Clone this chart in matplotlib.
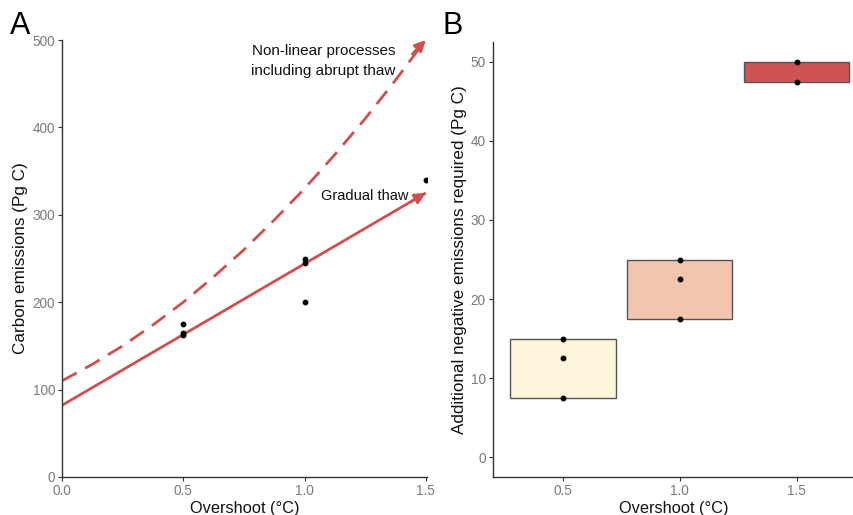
import matplotlib
matplotlib.use("Agg")
import matplotlib.pyplot as plt
import numpy as np

plt.rcParams['font.family'] = ['Liberation Sans', 'DejaVu Sans']

# Panel A data
pts_x = [0.5, 0.5, 0.5, 1.0, 1.0, 1.0, 1.5]
pts_y = [175, 165, 163, 250, 245, 200, 340]
grad_x = [0.0, 1.5]
grad_y = [82, 325]
nonlin_x = [0.0, 0.125, 0.25, 0.375, 0.5, 0.625, 0.75, 0.875, 1.0, 1.125, 1.25, 1.375, 1.5]
nonlin_y = [110, 129, 150, 174, 200, 229, 260, 294, 330, 369, 410, 454, 500]

# Panel B data
cats = [0.5, 1.0, 1.5]
box_lo = [7.5, 17.5, 47.5]
box_hi = [15, 25, 50]
box_colors = ['#FCF5DA', '#F1C6AC', '#CD5452']
b_pts_x = [0.5, 0.5, 0.5, 1.0, 1.0, 1.0, 1.5, 1.5]
b_pts_y = [7.5, 12.5, 15, 17.5, 22.5, 25, 47.5, 50]

red = '#D24E4C'
tickc = '#7A7A7A'
spinec = '#333333'

fig = plt.figure(figsize=(8.54, 5.15), dpi=100)
axA = fig.add_axes([0.0726, 0.0738, 0.4274, 0.8485])
axB = fig.add_axes([0.577, 0.0738, 0.423, 0.8446])

def style(ax):
    for s in ['top', 'right']:
        ax.spines[s].set_visible(False)
    for s in ['left', 'bottom']:
        ax.spines[s].set_color(spinec)
        ax.spines[s].set_linewidth(1.0)
    ax.tick_params(colors=spinec, labelcolor=tickc, labelsize=9.8, length=3, width=0.8, pad=2)

# Panel A
style(axA)
axA.plot(grad_x, grad_y, color=red, lw=2.0, solid_capstyle='butt')
axA.annotate('', xy=(grad_x[-1], grad_y[-1]), xytext=(grad_x[-1] - 0.06, grad_y[-1] - 0.06 * (grad_y[-1] - grad_y[0]) / 1.5),
             arrowprops=dict(arrowstyle='-|>', color=red, lw=2.0, mutation_scale=16, shrinkA=0, shrinkB=0))
axA.plot(nonlin_x[:-1] + [nonlin_x[-1] - 0.02], nonlin_y[:-1] + [nonlin_y[-1] - 7], color=red, lw=2.0, ls=(0, (6, 3.5)))
axA.annotate('', xy=(nonlin_x[-1], nonlin_y[-1]), xytext=(nonlin_x[-2] + 0.07, nonlin_y[-2] + 30),
             arrowprops=dict(arrowstyle='-|>', color=red, lw=2.0, mutation_scale=16, shrinkA=0, shrinkB=0))
axA.plot(pts_x, pts_y, 'o', color='black', ms=3.2, zorder=5)
axA.text(1.376, 476, 'Non-linear processes\nincluding abrupt thaw', ha='right', va='center',
         fontsize=11, linespacing=1.5, color='#111111')
axA.text(1.43, 322, 'Gradual thaw', ha='right', va='center', fontsize=10.5, color='#111111')
axA.set_xlim(0, 1.505)
axA.set_ylim(0, 500)
axA.set_xticks([0.0, 0.5, 1.0, 1.5])
axA.set_xticklabels(['0.0', '0.5', '1.0', '1.5'])
axA.set_yticks([0, 100, 200, 300, 400, 500])
axA.set_xlabel('Overshoot (°C)', fontsize=11.8, color='#111111', labelpad=2)
axA.set_ylabel('Carbon emissions (Pg C)', fontsize=12.3, color='#111111', labelpad=3)

# Panel B
style(axB)
width = 0.45
for c, lo, hi, col in zip(cats, box_lo, box_hi, box_colors):
    axB.bar(c, hi - lo, bottom=lo, width=width, color=col, edgecolor='#555555', linewidth=1.0, zorder=2)
axB.plot(b_pts_x, b_pts_y, 'o', color='black', ms=3.2, zorder=5)
axB.set_xlim(0.2, 1.745)
axB.set_ylim(-2.5, 52.5)
axB.set_xticks([0.5, 1.0, 1.5])
axB.set_xticklabels(['0.5', '1.0', '1.5'])
axB.set_yticks([0, 10, 20, 30, 40, 50])
axB.set_xlabel('Overshoot (°C)', fontsize=11.8, color='#111111', labelpad=2)
axB.set_ylabel('Additional negative emissions required (Pg C)', fontsize=12.3, color='#111111', labelpad=3)

fig.text(10 / 854, 1 - 26 / 515, 'A', fontsize=22, va='center', ha='left')
fig.text(443 / 854, 1 - 26 / 515, 'B', fontsize=22, va='center', ha='left')

fig.savefig('out.png', dpi=100)
